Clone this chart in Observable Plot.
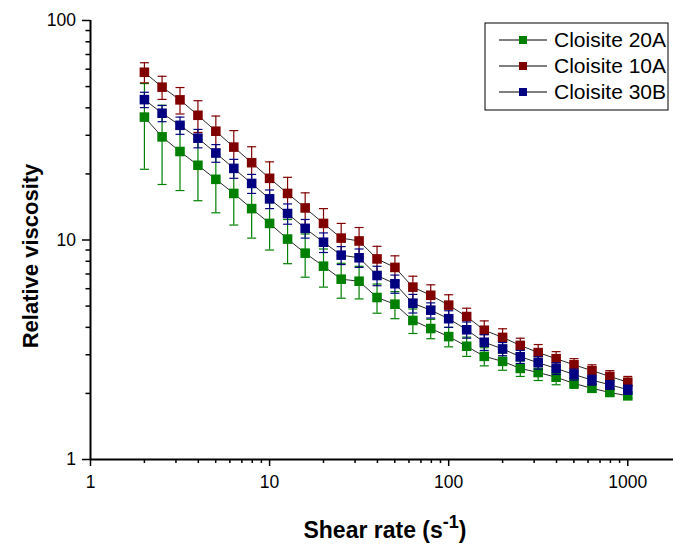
<!DOCTYPE html>
<html>
<head>
<meta charset="utf-8">
<script src="https://cdn.jsdelivr.net/npm/d3@7"></script>
<script src="https://cdn.jsdelivr.net/npm/@observablehq/plot@0.6"></script>
<style>
  body { margin: 0; background: #fff; }
  #chart { width: 673px; height: 545px; }
</style>
</head>
<body>
<div id="chart"></div>
<script>
// ---- data ----
const shearRate = [2, 2.51, 3.16, 3.98, 5.01, 6.31, 7.94, 10, 12.6, 15.8, 20, 25.1, 31.6, 39.8, 50.1, 63.1, 79.4, 100, 126, 158, 200, 251, 316, 398, 501, 631, 794, 1000];

const seriesNames = ["Cloisite 20A", "Cloisite 10A", "Cloisite 30B"];
const seriesColors = ["#008000", "#800000", "#000080"];

const visc20A = [36.3, 29.5, 25.3, 21.9, 18.9, 16.3, 13.9, 11.9, 10.1, 8.71, 7.60, 6.63, 6.49, 5.47, 5.10, 4.30, 3.95, 3.63, 3.28, 2.95, 2.80, 2.60, 2.49, 2.37, 2.22, 2.11, 2.02, 1.95];
const err20A  = [15.3, 11.6, 8.5, 6.8, 5.6, 4.6, 3.7, 2.9, 2.3, 1.94, 1.5, 1.2, 1.1, 0.83, 0.72, 0.55, 0.40, 0.37, 0.33, 0.28, 0.25, 0.21, 0.20, 0.18, 0.11, 0.08, 0.06, 0.05];

const visc10A = [58.1, 49.7, 43.5, 37.0, 31.3, 26.5, 22.5, 19.1, 16.3, 14.0, 11.9, 10.2, 9.9, 8.2, 7.5, 6.1, 5.6, 5.05, 4.48, 3.88, 3.60, 3.31, 3.07, 2.88, 2.70, 2.54, 2.39, 2.25];
const err10A  = [6.1, 6.0, 6.0, 6.1, 5.4, 5.0, 4.1, 3.6, 3.0, 2.4, 2.0, 1.7, 1.5, 1.16, 0.97, 0.74, 0.65, 0.58, 0.41, 0.40, 0.34, 0.26, 0.27, 0.22, 0.18, 0.16, 0.15, 0.14];

const visc30B = [43.6, 37.8, 33.3, 29.1, 24.9, 21.2, 18.1, 15.4, 13.2, 11.3, 9.77, 8.53, 8.30, 6.89, 6.32, 5.15, 4.79, 4.38, 3.90, 3.42, 3.19, 2.94, 2.76, 2.60, 2.44, 2.30, 2.19, 2.08];
const err30B  = [3.5, 3.2, 3.0, 2.8, 2.3, 2.1, 1.8, 1.5, 1.4, 1.1, 1.0, 0.8, 0.8, 0.7, 0.6, 0.5, 0.38, 0.38, 0.33, 0.28, 0.22, 0.20, 0.18, 0.16, 0.14, 0.12, 0.10, 0.10];

const xMajorTicks = [1, 10, 100, 1000];
const xMinorTicks = [2, 3, 4, 5, 6, 7, 8, 9, 20, 30, 40, 50, 60, 70, 80, 90, 200, 300, 400, 500, 600, 700, 800, 900];
const yMajorTicks = [1, 10, 100];
const yMinorTicks = [2, 3, 4, 5, 6, 7, 8, 9, 20, 30, 40, 50, 60, 70, 80, 90];

const xTitle = "Shear rate (s";
const xTitleSup = "-1";
const yTitle = "Relative viscosity";

// ---- build table ----
const valueSets = [visc20A, visc10A, visc30B];
const errSets = [err20A, err10A, err30B];
const rows = [];
seriesNames.forEach((name, k) => {
  shearRate.forEach((x, i) => {
    const v = valueSets[k][i], e = errSets[k][i];
    rows.push({series: name, x, y: v, lo: v - e, hi: v + e});
  });
});

// horizontal cap symbol for error bars
const capSymbol = {
  draw(ctx, size) {
    const r = Math.sqrt(size / Math.PI);
    ctx.moveTo(-r, 0);
    ctx.lineTo(r, 0);
  }
};

const marks = [];
// connecting lines under everything
marks.push(Plot.line(rows, {x: "x", y: "y", z: "series", stroke: "#111", strokeWidth: 0.9}));
seriesNames.forEach((name, k) => {
  const d = rows.filter(r => r.series === name);
  const c = seriesColors[k];
  marks.push(Plot.ruleX(d, {x: "x", y1: "lo", y2: "hi", stroke: c, strokeWidth: 1.2}));
  marks.push(Plot.dot(d, {x: "x", y: "lo", symbol: capSymbol, r: 4.5, stroke: c, strokeWidth: 1.2}));
  marks.push(Plot.dot(d, {x: "x", y: "hi", symbol: capSymbol, r: 4.5, stroke: c, strokeWidth: 1.2}));
  marks.push(Plot.dot(d, {x: "x", y: "y", symbol: "square", r: 5.4, fill: c, stroke: "none"}));
});
// axes
marks.push(Plot.axisX({ticks: xMajorTicks, tickSize: 7, tickPadding: 9, tickFormat: d => String(d), strokeWidth: 1.5, label: null}));
marks.push(Plot.axisX({ticks: xMinorTicks, tickSize: 4, tickFormat: () => "", strokeWidth: 1.5, label: null}));
marks.push(Plot.axisY({ticks: yMajorTicks, tickSize: 8, tickPadding: 6.5, tickFormat: d => String(d), strokeWidth: 1.5, label: null}));
marks.push(Plot.axisY({ticks: yMinorTicks, tickSize: 4.5, tickFormat: () => "", strokeWidth: 1.5, label: null}));
marks.push(Plot.ruleX([1], {stroke: "#000", strokeWidth: 2}));
marks.push(Plot.ruleY([1], {stroke: "#000", strokeWidth: 2}));

const svg = Plot.plot({
  width: 673,
  height: 545,
  marginLeft: 90,
  marginRight: 0,
  marginTop: 20,
  marginBottom: 86,
  x: {type: "log", domain: [1, 1800]},
  y: {type: "log", domain: [1, 100]},
  style: {fontFamily: "'Liberation Sans', Arial, sans-serif", fontSize: "17.5px", color: "#000", background: "#fff", overflow: "visible"},
  marks
});

const s = d3.select(svg);
const font = "'Liberation Sans', Arial, sans-serif";

// x title
const xt = s.append("text")
  .attr("x", 385).attr("y", 538)
  .attr("text-anchor", "middle")
  .attr("font-family", font).attr("font-weight", "bold").attr("font-size", 23)
  .attr("fill", "#000");
xt.append("tspan").text(xTitle);
xt.append("tspan").attr("dy", -10).attr("font-size", 18).text(xTitleSup);
xt.append("tspan").attr("dy", 10).text(")");

// y title
s.append("text")
  .attr("transform", "translate(38,256) rotate(-90)")
  .attr("text-anchor", "middle")
  .attr("font-family", font).attr("font-weight", "bold").attr("font-size", 22)
  .attr("fill", "#000")
  .text(yTitle);

// legend
const lg = s.append("g");
lg.append("rect").attr("x", 485).attr("y", 23).attr("width", 183).attr("height", 87)
  .attr("fill", "#fff").attr("stroke", "#000").attr("stroke-width", 1);
seriesNames.forEach((name, k) => {
  const cy = 40 + k * 26;
  lg.append("line").attr("x1", 499).attr("x2", 547).attr("y1", cy).attr("y2", cy)
    .attr("stroke", "#000").attr("stroke-width", 1);
  lg.append("rect").attr("x", 519).attr("y", cy - 4).attr("width", 8).attr("height", 8)
    .attr("fill", seriesColors[k]);
  lg.append("text").attr("x", 554).attr("y", cy).attr("dy", "0.35em")
    .attr("text-anchor", "start")
    .attr("font-family", font).attr("font-size", 21).attr("fill", "#000")
    .text(name);
});

document.getElementById("chart").appendChild(svg);
</script>
</body>
</html>
